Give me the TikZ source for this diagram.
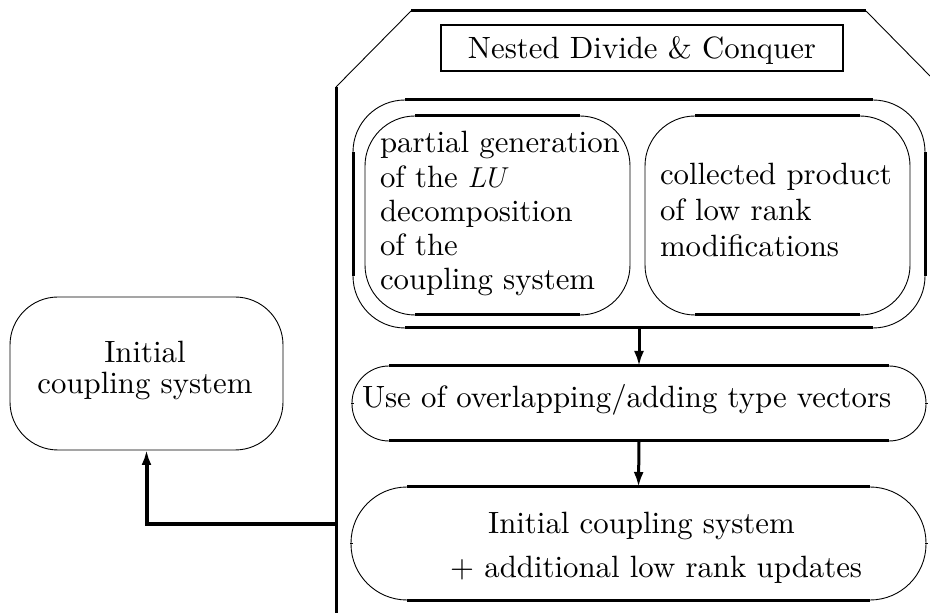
\documentclass[tikz,border=0pt]{standalone}
\usepackage{fontspec}
\setmainfont{lmroman10-regular.otf}
\usetikzlibrary{arrows.meta}
\tikzset{
  thn/.style={line width=0.45pt},
  thk/.style={line width=1.5pt},
  ovalbox/.style={draw, thn, inner sep=0pt, outer sep=0pt, rounded corners=#1},
  txt/.style={inner sep=0pt, outer sep=0pt},
  arr/.style={thk, -{Latex[length=7.5pt,width=5pt]}},
}
\newcommand\hstraights[2]{%
  \draw[thk] ([xshift=#2]#1.north west) -- ([xshift=-#2]#1.north east);
  \draw[thk] ([xshift=#2]#1.south west) -- ([xshift=-#2]#1.south east);}
\newcommand\vstraights[2]{%
  \draw[thk] ([yshift=-#2]#1.north west) -- ([yshift=#2]#1.south west);
  \draw[thk] ([yshift=-#2]#1.north east) -- ([yshift=#2]#1.south east);}
\begin{document}
\begin{tikzpicture}[x=0.5pt,y=-0.5pt,font=\fontsize{15.4}{17.1}\selectfont]
\fill[white] (0,0) rectangle (930,613);
\useasboundingbox (0,0) rectangle (930,613);

% outer frame of Nested Divide & Conquer
\coordinate (pb) at (336,613);
\coordinate (pl) at (336,87);
\coordinate (ptl) at (411,11);
\coordinate (ptr) at (866,11);
\coordinate (pr) at (930,76);
\draw[thk] (pb) -- (pl);
\draw[thn] (pl) -- (ptl);
\draw[thk] (ptl) -- (ptr);
\draw[thn] (ptr) -- (pr);

% title
\node[draw, line width=1.1pt, minimum width=201pt, minimum height=23pt, inner sep=0pt, outer sep=0pt] (title) at (642,48) {};
\node[txt, anchor=base] (titletxt) at (642,59) {Nested Divide \& Conquer};

% outer rounded box
\node[ovalbox=26pt, minimum width=286pt, minimum height=114pt] (outer) at (639,214) {};
\hstraights{outer}{26pt}
\vstraights{outer}{26pt}

% inner boxes
\node[ovalbox=25pt, minimum width=132.5pt, minimum height=99.5pt] (inL) at (497.5,215.5) {};
\hstraights{inL}{25pt}
\node[ovalbox=25pt, minimum width=132.5pt, minimum height=99.5pt] (inR) at (777.5,215.5) {};
\hstraights{inR}{25pt}

\node[txt, anchor=base west] (tL) at (380,153) {\begin{tabular}[t]{@{}l@{}}partial generation\\of the $LU$\\decomposition\\of the\\coupling system\end{tabular}};
\node[txt, anchor=base west, font=\fontsize{15.4}{18}\selectfont] (tR) at (660,185) {\begin{tabular}[t]{@{}l@{}}collected product\\of low rank\\modifications\end{tabular}};

% use box
\node[ovalbox=18.5pt, minimum width=287pt, minimum height=37.5pt] (use) at (639,403.5) {};
\hstraights{use}{18.5pt}
\vstraights{use}{18.5pt}
\node[txt, anchor=base west] (tU) at (362,408) {Use of overlapping/adding type vectors};

% bottom box
\node[ovalbox=28pt, minimum width=287.5pt, minimum height=56.5pt] (bot) at (638.5,543.5) {};
\hstraights{bot}{28pt}
\vstraights{bot}{28pt}
\node[txt, anchor=base] (tB) at (641.5,533) {\begin{tabular}[t]{@{}c@{}}Initial coupling system\\[4.9pt]\hspace*{0.95em}+ additional low rank updates\end{tabular}};

% left box
\node[ovalbox=24pt, minimum width=136.5pt, minimum height=76.5pt] (init) at (146.5,373.5) {};
\node[txt, anchor=base, font=\fontsize{15.4}{15.5}\selectfont] (tI) at (145,363) {\begin{tabular}[t]{@{}c@{}}Initial\\coupling system\end{tabular}};

% arrows
\draw[arr] (outer.south) -- (use.north);
\draw[arr] (use.south) -- (bot.north);
\coordinate (j) at (336,524);
\draw[arr, line width=2pt] (j) -- (j -| init.south) -- (init.south);
\end{tikzpicture}
\end{document}
